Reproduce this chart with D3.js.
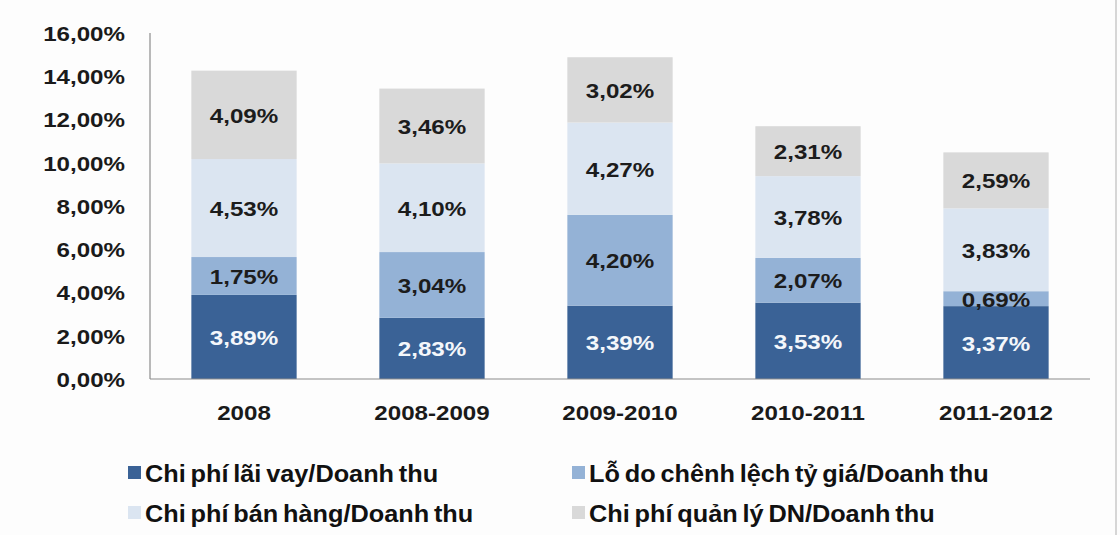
<!DOCTYPE html>
<html>
<head>
<meta charset="utf-8">
<script src="https://cdn.jsdelivr.net/npm/d3@7/dist/d3.min.js"></script>
<style>
  html, body { margin: 0; padding: 0; background: #fdfdfd; }
  svg { display: block; }
  text { font-family: "Liberation Sans", Arial, sans-serif; font-weight: bold; }
</style>
</head>
<body>
<svg id="chart" width="1120" height="535"></svg>
<script>
// Periods on the x axis
const periods = ["2008", "2008-2009", "2009-2010", "2010-2011", "2011-2012"];

// Cost ratios relative to revenue (%), stacked bottom to top
const interestCost = [3.89, 2.83, 3.39, 3.53, 3.37];
const fxLoss       = [1.75, 3.04, 4.20, 2.07, 0.69];
const sellingCost  = [4.53, 4.10, 4.27, 3.78, 3.83];
const adminCost    = [4.09, 3.46, 3.02, 2.31, 2.59];

const seriesNames = [
  "Chi phí lãi vay/Doanh thu",
  "Lỗ do chênh lệch tỷ giá/Doanh thu",
  "Chi phí bán hàng/Doanh thu",
  "Chi phí quản lý DN/Doanh thu"
];

const yTicks = [0, 2, 4, 6, 8, 10, 12, 14, 16];

const fills = ["#3a6296", "#94b2d6", "#dbe5f1", "#d9d9d9"];
const labelColors = ["#f4f7fb", "#1c1c1c", "#1c1c1c", "#1c1c1c"];

const svg = d3.select("#chart");
const stretch = 1.15;            // wide bold lettering
const fmt = v => v.toFixed(2).replace(".", ",") + "%";

const plotLeft = 150, plotRight = 1090, plotTop = 33, plotBottom = 379;

const x = d3.scaleBand().domain(periods).range([plotLeft, plotRight]).paddingInner(0.44).paddingOuter(0.22);
const y = d3.scaleLinear().domain([0, 16]).range([plotBottom, plotTop]);

const rows = periods.map((p, i) => ({
  period: p,
  s0: interestCost[i], s1: fxLoss[i], s2: sellingCost[i], s3: adminCost[i]
}));
const stack = d3.stack().keys(["s0", "s1", "s2", "s3"])(rows);

function wideText(g, tx, ty, str, size, anchor, color, sx = stretch) {
  return g.append("text")
    .attr("transform", `translate(${tx},${ty}) scale(${sx},1)`)
    .attr("text-anchor", anchor)
    .attr("dominant-baseline", "central")
    .attr("font-size", size)
    .attr("fill", color)
    .text(str);
}

// outer frame edge on the right
svg.append("line").attr("x1", 1116).attr("x2", 1116).attr("y1", 0).attr("y2", 535)
  .attr("stroke", "#c8c8c8").attr("stroke-width", 1.5);

// bars
const layers = svg.append("g");
stack.forEach((layer, k) => {
  layers.selectAll(null).data(layer).enter().append("rect")
    .attr("x", d => x(d.data.period))
    .attr("width", x.bandwidth())
    .attr("y", d => y(d[1]))
    .attr("height", d => y(d[0]) - y(d[1]))
    .attr("fill", fills[k]);
});

// value labels
const labels = svg.append("g");
stack.forEach((layer, k) => {
  layer.forEach(d => {
    const v = d[1] - d[0];
    wideText(labels, x(d.data.period) + x.bandwidth() / 2, (y(d[0]) + y(d[1])) / 2 + 1,
      fmt(v), 21, "middle", labelColors[k]);
  });
});

// axes
const axisColor = "#8c8c8c";
svg.append("line").attr("x1", plotLeft).attr("x2", plotLeft).attr("y1", plotTop).attr("y2", plotBottom)
  .attr("stroke", axisColor).attr("stroke-width", 1.2);
svg.append("line").attr("x1", plotLeft).attr("x2", plotRight).attr("y1", plotBottom).attr("y2", plotBottom)
  .attr("stroke", axisColor).attr("stroke-width", 1.2);

const yLab = svg.append("g");
yTicks.forEach(t => wideText(yLab, 125, y(t) + 1, fmt(t), 21, "end", "#1a1a1a"));

const xLab = svg.append("g");
periods.forEach(p => wideText(xLab, x(p) + x.bandwidth() / 2, 413, p, 21, "middle", "#1a1a1a"));

// legend: two rows, two columns
const legend = svg.append("g");
const legPos = [[128, 473], [572, 473], [128, 513], [572, 513]];
seriesNames.forEach((name, k) => {
  const [lx, ly] = legPos[k];
  legend.append("rect").attr("x", lx).attr("y", ly - 7).attr("width", 13).attr("height", 13)
    .attr("fill", fills[k]);
  wideText(legend, lx + 17, ly + 1, name, 23, "start", "#111", 1.1)
    .attr("word-spacing", -2);
});
</script>
</body>
</html>
